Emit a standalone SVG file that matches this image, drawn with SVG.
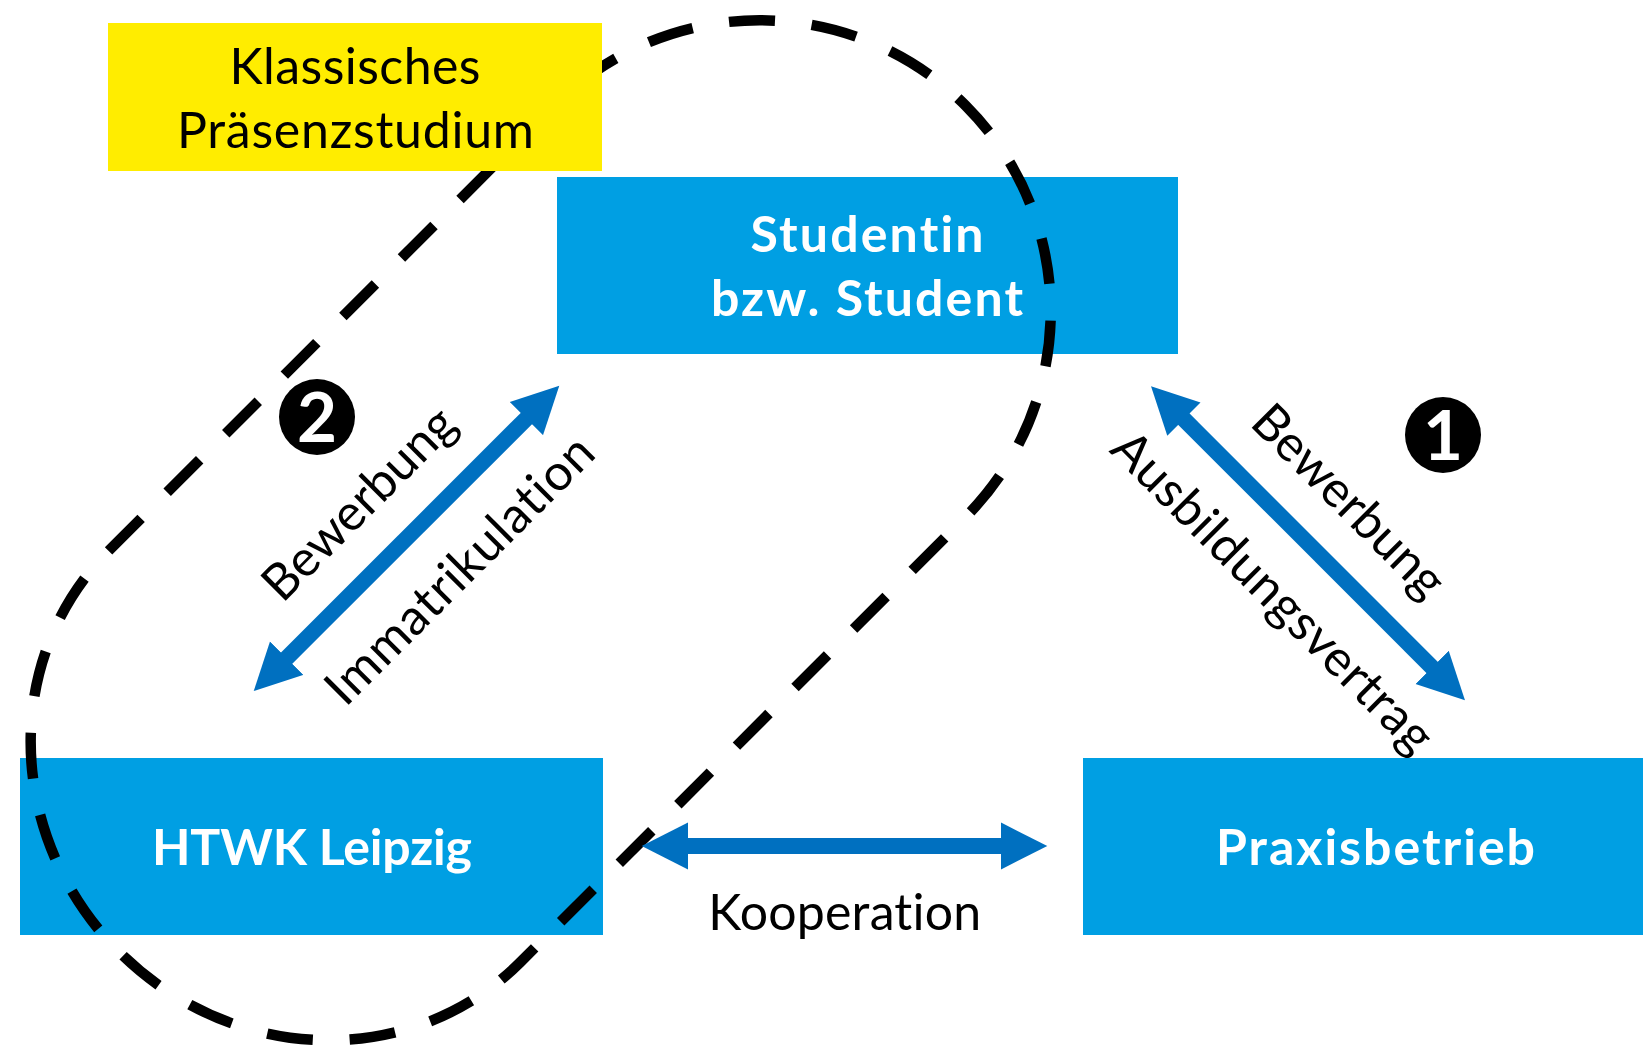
<svg xmlns="http://www.w3.org/2000/svg" width="1643" height="1051" viewBox="0 0 1643 1051">
<style>
.box{fill:#009FE3}
.yel{fill:#FFED00}
.t{font-family:Lato,"Source Sans Pro","Liberation Sans",sans-serif;font-size:50px;fill:#000;text-anchor:middle;font-variant-ligatures:none;font-feature-settings:"liga" 0,"clig" 0}
.b{font-family:Lato,"Source Sans Pro","Liberation Sans",sans-serif;font-size:50px;font-weight:bold;fill:#fff;text-anchor:middle;font-variant-ligatures:none;font-feature-settings:"liga" 0,"clig" 0}
.con{stroke:#0070C0;stroke-width:16;fill:none}
.loop{fill:none;stroke:#000;stroke-width:10.5;stroke-dasharray:46 36.84;stroke-dashoffset:-4}
.badge{fill:#000}
.num{font-family:Lato,"Liberation Sans",sans-serif;font-size:69px;font-weight:bold;fill:#fff;text-anchor:middle}
</style>
<defs>
<marker id="ah" markerUnits="userSpaceOnUse" markerWidth="47" markerHeight="48" viewBox="0 -24 47 48" refX="1" refY="0" orient="auto-start-reverse">
<path d="M0,-23.5 L46.5,0 L0,23.5 Z" fill="#0070C0"/>
</marker>
</defs>
<g id="node-student">
<rect class="box" x="557" y="177" width="621" height="177"/>
<text class="b" x="867" y="252" textLength="233">Studentin</text>
<text class="b" x="867" y="316" textLength="312">bzw. Student</text>
</g>
<g id="node-htwk">
<rect class="box" x="20" y="758" width="583" height="177"/>
<text class="b" x="312" y="865" textLength="320">HTWK Leipzig</text>
</g>
<g id="node-praxis">
<rect class="box" x="1083" y="758" width="585" height="177"/>
<text class="b" x="1375.5" y="865" textLength="319">Praxisbetrieb</text>
</g>
<g id="loop">
<path class="loop" transform="translate(537,534) rotate(-45)" d="M315,-291 L-315,-291 A276,291 0 0 0 -315,291 L315,291 A291,291 0 0 0 315,-291 Z"/>
</g>
<g id="connectors">
<line class="con" x1="285.9" y1="658.9" x2="527.1" y2="417.8" marker-start="url(#ah)" marker-end="url(#ah)"/>
<line class="con" x1="1183.2" y1="418.5" x2="1432.8" y2="668.1" marker-start="url(#ah)" marker-end="url(#ah)"/>
<line class="con" x1="687.2" y1="846" x2="1001.8" y2="846" marker-start="url(#ah)" marker-end="url(#ah)"/>
<text class="t" transform="translate(371,515.5) rotate(-45)" textLength="250">Bewerbung</text>
<text class="t" transform="translate(471.6,581.9) rotate(-45)" textLength="357">Immatrikulation</text>
<text class="t" transform="translate(1337,513) rotate(45)" textLength="250">Bewerbung</text>
<text class="t" transform="translate(1261,604) rotate(45)" textLength="432">Ausbildungsvertrag</text>
<text class="t" x="844.7" y="930" textLength="273">Kooperation</text>
</g>
<g id="node-praesenz">
<rect class="yel" x="108" y="23" width="494" height="148"/>
<text class="t" x="355" y="83.5" textLength="251">Klassisches</text>
<text class="t" x="355.5" y="148" textLength="357">Präsenzstudium</text>
</g>
<g id="badge-2">
<circle class="badge" cx="317" cy="417" r="38"/>
<text class="num" x="317" y="442">2</text>
</g>
<g id="badge-1">
<circle class="badge" cx="1443" cy="435" r="38"/>
<text class="num" x="1443" y="460">1</text>
</g>
</svg>
